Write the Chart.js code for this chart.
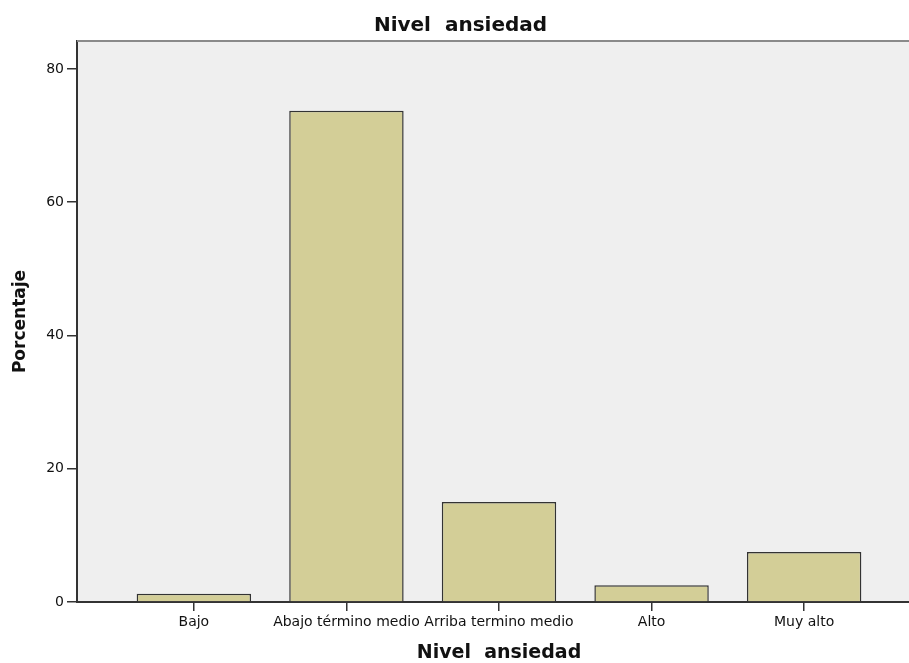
<!DOCTYPE html>
<html>
<head>
<meta charset="utf-8">
<script src="https://cdn.jsdelivr.net/npm/chart.js@4.4.1/dist/chart.umd.min.js"></script>
<style>
  html, body { margin: 0; padding: 0; background: #ffffff; overflow: hidden; }
  #wrap { width: 921px; height: 663px; }
</style>
</head>
<body>
<div id="wrap"><canvas id="chart" width="921" height="663"></canvas></div>
<script>
// Chart data
const categories = ['Bajo', 'Abajo término medio', 'Arriba termino medio', 'Alto', 'Muy alto'];
const percentages = [1.25, 73.75, 15, 2.5, 7.5];
const yTicks = [0, 20, 40, 60, 80];

// Grey plot background and the top border line
const plotBackground = {
  id: 'plotBackground',
  beforeDraw(chart) {
    const { ctx, chartArea } = chart;
    ctx.save();
    ctx.fillStyle = '#efefef';
    ctx.fillRect(chartArea.left, chartArea.top, chartArea.right - chartArea.left, chartArea.bottom - chartArea.top);
    ctx.restore();
  },
  afterDraw(chart) {
    const { ctx, chartArea } = chart;
    ctx.save();
    ctx.strokeStyle = '#8a8a8a';
    ctx.lineWidth = 2;
    ctx.beginPath();
    ctx.moveTo(chartArea.left, chartArea.top);
    ctx.lineTo(chartArea.right, chartArea.top);
    ctx.stroke();
    ctx.restore();
  }
};

const ctx = document.getElementById('chart');
const chartInstance = new Chart(ctx, {
  type: 'bar',
  data: {
    datasets: [{
      label: 'Porcentaje',
      data: percentages.map((v, i) => ({ x: i, y: v })),
      backgroundColor: '#d3ce97',
      borderColor: '#333333',
      borderWidth: 1.5,
      categoryPercentage: 1,
      barPercentage: 0.75
    }]
  },
  options: {
    responsive: false,
    animation: false,
    layout: { padding: 0 },
    plugins: {
      legend: { display: false },
      tooltip: { enabled: false },
      title: {
        display: true,
        text: 'Nivel  ansiedad',
        color: '#111111',
        font: { family: 'DejaVu Sans', size: 20, weight: 'bold' },
        padding: { top: 14, bottom: 3 }
      }
    },
    scales: {
      x: {
        type: 'linear',
        offset: false,
        min: -0.766,
        max: 4.766,
        afterBuildTicks: (scale) => { scale.ticks = categories.map((c, i) => ({ value: i })); },
        afterFit: (scale) => { scale.height = 61; },
        ticks: {
          callback: (value) => categories[value],
          color: '#111111',
          font: { family: 'DejaVu Sans', size: 14 },
          padding: 3,
          maxRotation: 0,
          autoSkip: false
        },
        grid: { offset: false, drawOnChartArea: false, drawTicks: true, tickLength: 9, color: '#333333', lineWidth: 1.5 },
        border: { display: true, color: '#333333', width: 2 },
        title: {
          display: true,
          text: 'Nivel  ansiedad',
          color: '#111111',
          font: { family: 'DejaVu Sans', size: 19, weight: 'bold', lineHeight: 1 },
          padding: { top: 0, bottom: 0 }
        }
      },
      y: {
        min: 0,
        max: 84.2,
        afterBuildTicks: (scale) => { scale.ticks = yTicks.map(v => ({ value: v })); },
        afterFit: (scale) => { scale.width = 77; },
        ticks: {
          color: '#111111',
          font: { family: 'DejaVu Sans', size: 14 },
          padding: 3
        },
        grid: { drawOnChartArea: false, drawTicks: true, tickLength: 10, color: '#333333', lineWidth: 1.5 },
        border: { display: true, color: '#333333', width: 2 },
        title: {
          display: true,
          text: 'Porcentaje',
          color: '#111111',
          font: { family: 'DejaVu Sans', size: 17, weight: 'bold' },
          padding: { top: 10, bottom: 0 }
        }
      }
    }
  },
  plugins: [plotBackground]
});
</script>
</body>
</html>
